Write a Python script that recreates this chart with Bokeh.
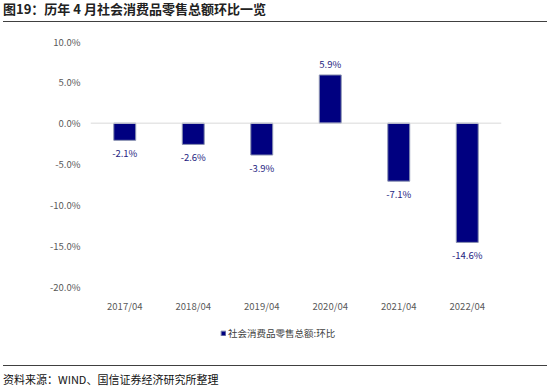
from bokeh.plotting import figure
from bokeh.layouts import column
from bokeh.models import (FixedTicker, Span, Div, Legend, LegendItem,
                          ColumnDataSource, Range1d, FactorRange)
from bokeh.core.properties import value
from bokeh.embed import file_html
from bokeh.resources import INLINE

# ---- data ----
categories = ["2017/04", "2018/04", "2019/04", "2020/04", "2021/04", "2022/04"]
mom_change = [-2.1, -2.6, -3.9, 5.9, -7.1, -14.6]
y_ticks = [-20, -15, -10, -5, 0, 5, 10]
y_tick_labels = ["-20.0%", "-15.0%", "-10.0%", "-5.0%", "0.0%", "5.0%", "10.0%"]
series_name = "社会消费品零售总额:环比"
title_text = "图19：历年 4 月社会消费品零售总额环比一览"
source_text = "资料来源：WIND、国信证券经济研究所整理"

CJK = "Noto Sans CJK SC"
NAVY = "#000080"
W = 550

# ---- header (page y 0..22) ----
head = Div(text=title_text, width=544, height=22, margin=(0, 3, 0, 3),
           styles={"font-family": "'Noto Sans CJK SC'", "font-size": "13px",
                   "font-weight": "bold", "color": "#222222", "box-sizing": "border-box",
                   "padding-top": "1px", "line-height": "16px", "white-space": "nowrap",
                   "border-bottom": "1.5px solid #404040"})

# ---- main chart (page y 22..318) ----
labels = [f"{v:.1f}%" for v in mom_change]
offsets = [-11 if v >= 0 else 13 for v in mom_change]
src = ColumnDataSource(dict(cat=categories, val=mom_change, lab=labels, off=offsets))

xr = FactorRange(*categories, range_padding=0)
yr = Range1d(-20, 10)

p = figure(width=W, height=296, output_backend="svg", toolbar_location=None,
           x_range=xr, y_range=yr,
           min_border_left=90, min_border_right=49, min_border_top=19, min_border_bottom=32)
p.outline_line_color = None
p.xgrid.visible = False
p.ygrid.visible = False
p.background_fill_color = "white"
p.border_fill_color = "white"

bar_kw = dict(x="cat", top="val", bottom=0, width=0.32, source=src,
              fill_color=NAVY, line_color="#8a92b0", line_width=1)
bars = p.vbar(**bar_kw)

p.text(x="cat", y="val", text="lab", source=src, y_offset="off",
       text_align="center", text_baseline="middle",
       text_font=value(CJK), text_font_size="9.5px", text_color="#24247f")

p.add_layout(Span(location=0, dimension="width", line_color="#D9D9D9", line_width=1))

p.yaxis.ticker = FixedTicker(ticks=y_ticks)
p.yaxis.major_label_overrides = {t: l for t, l in zip(y_ticks, y_tick_labels)}
p.yaxis.axis_line_color = None
p.yaxis.major_tick_line_color = None
p.yaxis.minor_tick_line_color = None
p.yaxis.major_tick_out = 0
p.yaxis.major_label_standoff = 10
p.yaxis.major_label_text_font = CJK
p.yaxis.major_label_text_font_size = "9.5px"
p.yaxis.major_label_text_color = "#595959"

p.xaxis.axis_line_color = None
p.xaxis.major_tick_line_color = None
p.xaxis.major_tick_out = 0
p.xaxis.major_label_standoff = 12
p.xaxis.major_label_text_font = CJK
p.xaxis.major_label_text_font_size = "9.5px"
p.xaxis.major_label_text_color = "#595959"

# ---- legend strip (page y 318..365) ----
lg = figure(width=W, height=47, output_backend="svg", toolbar_location=None,
            x_range=xr, y_range=yr,
            min_border_left=90, min_border_right=49, min_border_top=0, min_border_bottom=0)
lg.axis.visible = False
lg.grid.visible = False
lg.outline_line_color = None
lg.background_fill_color = "white"
lg.border_fill_color = "white"
lg_bars = lg.vbar(**bar_kw)
lg_bars.visible = False

legend = Legend(items=[LegendItem(label=series_name, renderers=[lg_bars])],
                location=(130, 25), orientation="horizontal",
                glyph_width=6, glyph_height=6, label_standoff=2,
                label_text_font=CJK, label_text_font_size="9.5px", label_text_color="#404040",
                label_height=12, padding=0, spacing=0, margin=0,
                border_line_color=None, background_fill_alpha=0)
lg.add_layout(legend, "center")

# ---- footer (page y 365..389) ----
foot = Div(text=source_text, width=544, height=24, margin=(0, 3, 0, 3),
           styles={"font-family": "'Noto Sans CJK SC'", "font-size": "11px",
                   "color": "#111111", "box-sizing": "border-box",
                   "padding-top": "6px", "line-height": "14px", "white-space": "nowrap",
                   "border-top": "1.5px solid #404040"})

layout = column(head, p, lg, foot, spacing=0)
open("out.html", "w").write(file_html(layout, INLINE))
